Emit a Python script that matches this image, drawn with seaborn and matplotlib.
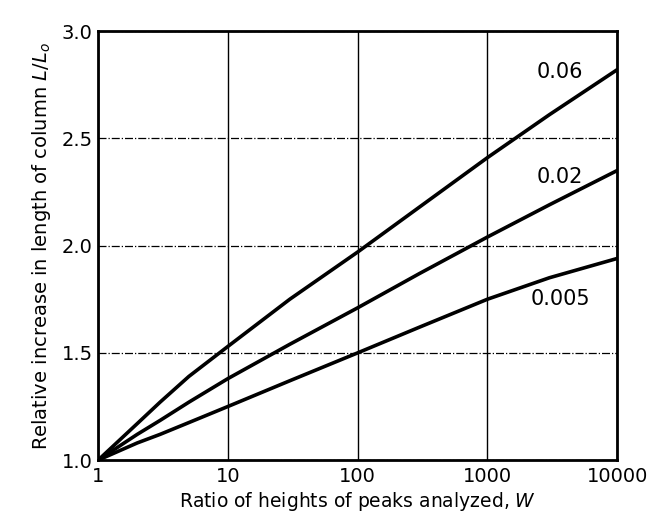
import numpy as np
import pandas as pd
import matplotlib
matplotlib.use("Agg")
import matplotlib.pyplot as plt
import seaborn as sns

# Values
ratio_w = [1, 2, 3, 5, 10, 30, 100, 300, 1000, 3000, 10000]
curve_006 = [1.0, 1.17, 1.27, 1.39, 1.53, 1.75, 1.97, 2.18, 2.41, 2.61, 2.82]
curve_002 = [1.0, 1.12, 1.185, 1.27, 1.38, 1.54, 1.71, 1.87, 2.04, 2.19, 2.35]
curve_0005 = [1.0, 1.08, 1.12, 1.175, 1.25, 1.37, 1.50, 1.62, 1.75, 1.85, 1.94]
series_labels = ["0.06", "0.02", "0.005"]

x_ticks = [1, 10, 100, 1000, 10000]
x_tick_labels = ["1", "10", "100", "1000", "10000"]
y_ticks = [1.0, 1.5, 2.0, 2.5, 3.0]
y_tick_labels = ["1.0", "1.5", "2.0", "2.5", "3.0"]

df = pd.DataFrame({
    "W": ratio_w * 3,
    "L": curve_006 + curve_002 + curve_0005,
    "series": [s for s in series_labels for _ in ratio_w],
})

sns.set_style("white")
plt.rcParams["font.family"] = ["DejaVu Sans"]
plt.rcParams["text.color"] = "black"
plt.rcParams["axes.labelcolor"] = "black"

fig = plt.figure(figsize=(6.63, 5.17), dpi=100)
ax = fig.add_axes([0.148, 0.110, 0.783, 0.830])

sns.lineplot(data=df, x="W", y="L", hue="series",
             palette=["black"] * 3, linewidth=2.6, legend=False, ax=ax)

ax.set_xscale("log")
ax.set_xlim(1, 10000)
ax.set_ylim(1.0, 3.0)
ax.set_xticks(x_ticks, labels=x_tick_labels)
ax.set_yticks(y_ticks, labels=y_tick_labels)
ax.xaxis.set_minor_locator(matplotlib.ticker.NullLocator())
ax.tick_params(length=0, labelsize=14, labelcolor="black")
ax.tick_params(axis="x", pad=5)
ax.tick_params(axis="y", pad=4)

# grid: solid verticals, dash-dot horizontals
ax.xaxis.grid(True, color="black", linewidth=1.0, linestyle="-")
ax.yaxis.grid(True, color="black", linewidth=0.9, linestyle="-.")
ax.set_axisbelow(True)

for sp in ax.spines.values():
    sp.set_visible(True)
    sp.set_color("black")
    sp.set_linewidth(2)

# curve labels
label_y = [2.81, 2.32, 1.75]
for lab, yy in zip(series_labels, label_y):
    ax.text(10 ** 3.56, yy, lab, fontsize=15, ha="center", va="center",
            color="black")

ax.set_xlabel("Ratio of heights of peaks analyzed, $W$", fontsize=13.5, labelpad=3)
ax.set_ylabel("Relative increase in length of column $L/L_o$", fontsize=14, labelpad=6)

fig.savefig("out.png", dpi=100)
